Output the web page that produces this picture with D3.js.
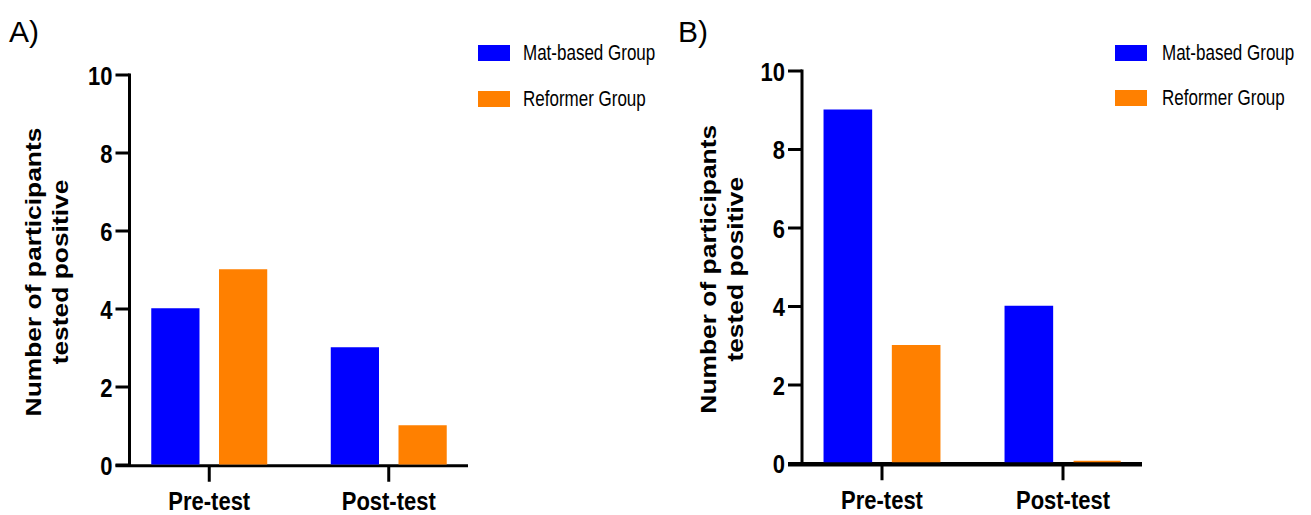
<!DOCTYPE html>
<html>
<head>
<meta charset="utf-8">
<script src="https://cdn.jsdelivr.net/npm/d3@7"></script>
<style>
  html, body { margin: 0; padding: 0; background: #fff; }
  svg { display: block; }
  text { font-family: "Liberation Sans", Arial, Helvetica, sans-serif; fill: #000; }
</style>
</head>
<body>
<svg id="chart" width="1311" height="515"></svg>
<script>
// Categories and series
const categories = ["Pre-test", "Post-test"];
const seriesNames = ["Mat-based Group", "Reformer Group"];
const seriesColors = ["#0000ff", "#ff8000"];

// Participants tested positive, panel A
const panelAMat = [4, 3];
const panelAReformer = [5, 1];

// Participants tested positive, panel B
const panelBMat = [9, 4];
const panelBReformer = [3, 0];

const yTicks = [0, 2, 4, 6, 8, 10];
const yTitleLines = ["Number of participants", "tested positive"];
const panelLetters = ["A)", "B)"];

// Vertical stretch applied to glyphs (text is drawn taller than it is wide)
const STRETCH = 1.2;

const svg = d3.select("#chart");

const panels = [
  {
    letter: panelLetters[0], letterX: 9, letterY: 42,
    values: [panelAMat, panelAReformer],
    axisX: 129.5, yTop: 75, yBottom: 465,
    bandRange: [119.5, 478.5], xAxisEnd: 468, xAxisWidth: 3,
    titleX: 41, legendX: 478, legendTextX: 523, legendY: [45, 91]
  },
  {
    letter: panelLetters[1], letterX: 678, letterY: 42,
    values: [panelBMat, panelBReformer],
    axisX: 802, yTop: 71, yBottom: 463.5,
    bandRange: [791.5, 1153.5], xAxisEnd: 1142, xAxisWidth: 4.5,
    titleX: 716, legendX: 1115, legendTextX: 1162, legendY: [45, 90]
  }
];

panels.forEach(p => {
  const g = svg.append("g");

  const y = d3.scaleLinear().domain([0, 10]).range([p.yBottom, p.yTop]);
  const x0 = d3.scaleBand().domain(categories).range(p.bandRange).padding(0);
  const x1 = d3.scaleBand().domain(seriesNames).range([0, x0.bandwidth()])
    .paddingInner(0.31).paddingOuter(0.48);

  // Panel letter
  g.append("text")
    .attr("x", p.letterX).attr("y", p.letterY)
    .style("font-size", "30px")
    .text(p.letter);

  // Y axis: line and ticks
  const tickLen = 14;
  const axisY = y(0) + 0.75;
  g.append("line")
    .attr("x1", p.axisX).attr("x2", p.axisX)
    .attr("y1", y(10) - 1.5).attr("y2", axisY)
    .attr("stroke", "#000").attr("stroke-width", 3);
  g.selectAll("line.ytick").data(yTicks).enter().append("line")
    .attr("class", "ytick")
    .attr("x1", p.axisX - tickLen).attr("x2", p.axisX)
    .attr("y1", d => y(d)).attr("y2", d => y(d))
    .attr("stroke", "#000").attr("stroke-width", 3);
  g.selectAll("text.ylab").data(yTicks).enter().append("text")
    .attr("class", "ylab")
    .attr("text-anchor", "end")
    .attr("transform", d => `translate(${p.axisX - tickLen - 3},${y(d) + 9.5}) scale(1,${STRETCH})`)
    .style("font-size", "22px").style("font-weight", "bold")
    .text(d => d);

  // X axis: baseline and category ticks
  g.append("line")
    .attr("x1", p.axisX - tickLen).attr("x2", p.xAxisEnd)
    .attr("y1", axisY).attr("y2", axisY)
    .attr("stroke", "#000").attr("stroke-width", p.xAxisWidth);
  g.selectAll("line.xtick").data(categories).enter().append("line")
    .attr("class", "xtick")
    .attr("x1", d => x0(d) + x0.bandwidth() / 2)
    .attr("x2", d => x0(d) + x0.bandwidth() / 2)
    .attr("y1", axisY).attr("y2", axisY + 16)
    .attr("stroke", "#000").attr("stroke-width", 3);
  g.selectAll("text.xlab").data(categories).enter().append("text")
    .attr("class", "xlab")
    .attr("text-anchor", "middle")
    .attr("transform", d => `translate(${x0(d) + x0.bandwidth() / 2},${y(0) + 45}) scale(1,${STRETCH})`)
    .style("font-size", "22px").style("font-weight", "bold")
    .text(d => d);

  // Bars, drawn as outlined paths resting on the top edge of the baseline,
  // so a zero value still shows as a thin coloured edge
  const rows = [];
  categories.forEach((c, ci) => {
    seriesNames.forEach((s, si) => {
      rows.push({ cat: c, series: s, value: p.values[si][ci], color: seriesColors[si] });
    });
  });
  const barBottom = axisY - p.xAxisWidth / 2 - 0.5;
  g.selectAll("path.bar").data(rows).enter().append("path")
    .attr("class", "bar")
    .attr("d", d => {
      const x = x0(d.cat) + x1(d.series);
      const top = Math.min(y(d.value), barBottom);
      const path = d3.path();
      path.rect(x, top, x1.bandwidth(), barBottom - top);
      return path.toString();
    })
    .attr("fill", d => d.color)
    .attr("stroke", d => d.color)
    .attr("stroke-width", 1.5);

  // Y axis title (two lines, rotated)
  const midY = (y(0) + y(10)) / 2 + 2;
  yTitleLines.forEach((line, i) => {
    g.append("text")
      .attr("text-anchor", "middle")
      .attr("transform", `translate(${p.titleX + i * 27},${midY}) rotate(-90) scale(${STRETCH},1)`)
      .style("font-size", "22px").style("font-weight", "bold")
      .text(line);
  });

  // Legend
  seriesNames.forEach((s, i) => {
    g.append("rect")
      .attr("x", p.legendX).attr("y", p.legendY[i])
      .attr("width", 32).attr("height", 16)
      .attr("fill", seriesColors[i]);
    g.append("text")
      .attr("transform", `translate(${p.legendTextX},${p.legendY[i] + 14.5}) scale(1,1.25)`)
      .style("font-size", "17px")
      .text(s);
  });
});
</script>
</body>
</html>
